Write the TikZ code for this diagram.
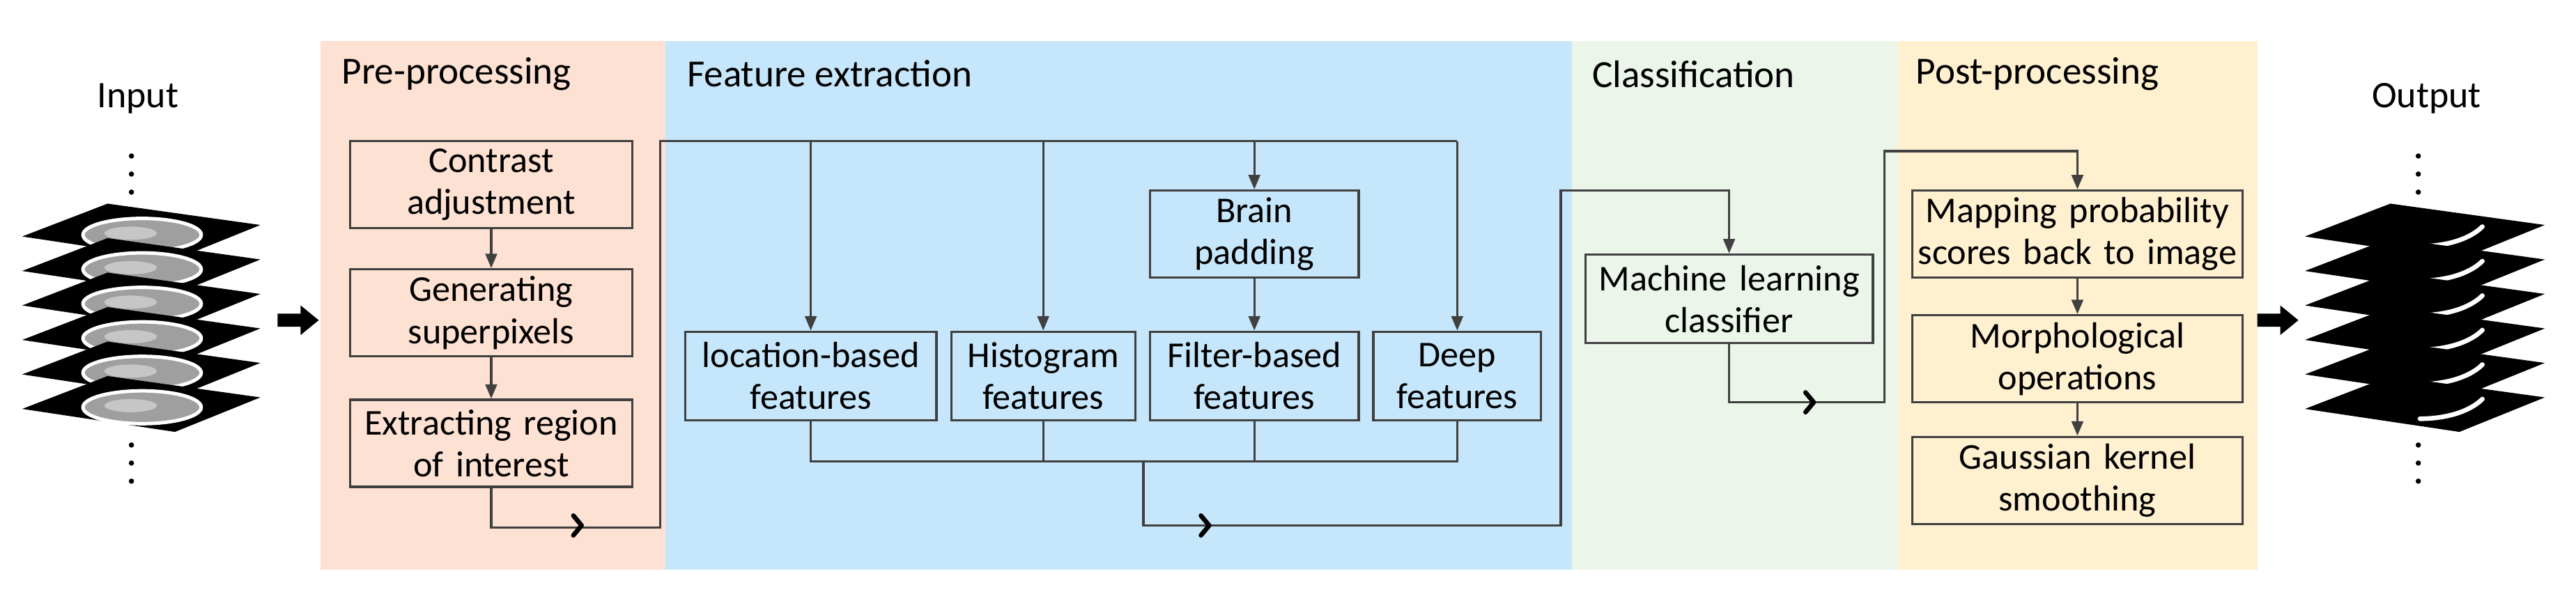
\documentclass[tikz,border=0pt]{standalone}
\usepackage{fontspec}
\setmainfont{Carlito}
\usetikzlibrary{arrows.meta,positioning}
\definecolor{pre}{HTML}{FDE1D2}
\definecolor{feat}{HTML}{C6E7FB}
\definecolor{cls}{HTML}{EBF5EA}
\definecolor{post}{HTML}{FFF0D0}
\definecolor{ln}{HTML}{404040}
\tikzset{
 box/.style={draw=ln,line width=0.8pt,minimum height=#1*0.02cm,inner sep=0pt,align=center,font=\fontsize{12.6}{14.5}\selectfont},
 box/.default=53,
 ttl/.style={anchor=west,font=\fontsize{13.3}{15}\selectfont},
 ln/.style={draw=ln,line width=0.8pt},
 arr/.style={ln,-{Triangle[length=5pt,width=4pt]}},
 chev/.style={line width=1.6pt,line cap=round,line join=round},
 slice/.style={fill=black},
}
\begin{document}
\begin{tikzpicture}[x=0.02cm,y=-0.02cm]
\useasboundingbox (0,0) rectangle (1568,370);
% panels
\fill[pre] (195,25) rectangle (405,347);
\fill[feat] (405,25) rectangle (957,347);
\fill[cls] (957,25) rectangle (1155,347);
\fill[post] (1155,25) rectangle (1374,347);
\node[ttl] (tpre) at (202,45) {Pre-processing};
\node[ttl] (tfeat) at (412,45) {Feature extraction};
\node[ttl] (tcls) at (963,45) {Classification};
\node[ttl] (tpost) at (1160,45) {Post-processing};
\node[font=\fontsize{13}{15}\selectfont] (tin) at (84,60) {Input};
\node[font=\fontsize{13}{15}\selectfont] (tout) at (1477,60) {Output};
% pre boxes
\node[box,text width=172*0.02cm] (c1) at (299,112.5) {Contrast\\adjustment};
\node[box,text width=172*0.02cm] (c2) at (299,190.5) {Generating\\superpixels};
\node[box,text width=172*0.02cm] (c3) at (299,270) {Extracting region\\of interest};
% feature boxes
\node[box,text width=127*0.02cm] (bp) at (763.5,142.5) {Brain\\padding};
\node[box=54,text width=153*0.02cm] (loc) at (493.5,229) {location-based\\features};
\node[box=54,text width=112*0.02cm] (his) at (635,229) {Histogram\\features};
\node[box=54,text width=127*0.02cm] (fil) at (763.5,229) {Filter-based\\features};
\node[box=54,text width=102*0.02cm] (dee) at (887,229) {Deep\\features};
% classifier
\node[box=54,text width=175*0.02cm] (mlc) at (1052.5,182) {Machine learning\\classifier};
% post boxes
\node[box,text width=201*0.02cm] (p1) at (1264.5,142.5) {Mapping probability\\scores back to image};
\node[box,text width=201*0.02cm] (p2) at (1264.5,218.5) {Morphological\\operations};
\node[box,text width=201*0.02cm] (p3) at (1264.5,292.5) {Gaussian kernel\\smoothing};
% coordinates
\coordinate (top) at (402,86);
\coordinate (bot) at (0,281);
\coordinate (j1) at (696,281);
% connectors
\draw[arr] (c1) -- (c2);
\draw[arr] (c2) -- (c3);
\draw[ln] (c3.south) -- ++(0,24) -| (top) -- (top -| dee.north);
\draw[arr] (top -| loc.north) -- (loc.north);
\draw[arr] (top -| his.north) -- (his.north);
\draw[arr] (top -| bp.north) -- (bp.north);
\draw[arr] (top -| dee.north) -- (dee.north);
\draw[arr] (bp) -- (fil);
\draw[ln] (loc.south) -- (loc.south |- bot) -- (dee.south |- bot) -- (dee.south);
\draw[ln] (his.south) -- (his.south |- bot);
\draw[ln] (fil.south) -- (fil.south |- bot);
\coordinate (k1) at (950,116);
\draw[arr] (j1) -- (696,320) -| (k1) -| (mlc.north);
\coordinate (k2) at (1147,92);
\draw[arr] (mlc.south) -- (1052.5,245) -| (k2) -| (p1.north);
\draw[arr] (p1) -- (p2);
\draw[arr] (p2) -- (p3);
% chevrons
\foreach \cx/\cy in {352/320,734/320,1102/245}
 \draw[chev] (\cx-3,\cy-6) -- (\cx+2,\cy) -- (\cx-3,\cy+6);
% block arrows
\fill (169,191) -- (183,191) -- (183,186) -- (194,195) -- (183,204) -- (183,199) -- (169,199) -- cycle;
\fill (1374,191) -- (1388,191) -- (1388,186) -- (1399,195) -- (1388,204) -- (1388,199) -- (1374,199) -- cycle;
% dots
\foreach \dy in {95,106,117,271,282,293} {
 \fill (80,\dy) circle (1.6);
 \fill (1472,\dy) circle (1.6);
}
% input slices
\foreach \k in {0,...,5} {
 \begin{scope}[shift={(13.5,124+21*\k)}]
 \fill[slice] (0,20) -- (52,0) -- (145,13) -- (93,34) -- cycle;
 \fill[gray!75,draw=white,line width=1.2pt] (73,19) ellipse (36 and 10);
 \fill[gray!45] (66,18) ellipse (16 and 4);
 \end{scope}
}
% output slices
\foreach \k in {0,...,5} {
 \begin{scope}[shift={(1403,124+21*\k)}]
 \fill[slice] (0,20) -- (52,0) -- (146,13) -- (94,34) -- cycle;
 \draw[white,line width=1.6pt,line cap=round] (70,26) .. controls (85,26) and (100,22) .. (108,14);
 \end{scope}
}
\end{tikzpicture}
\end{document}
